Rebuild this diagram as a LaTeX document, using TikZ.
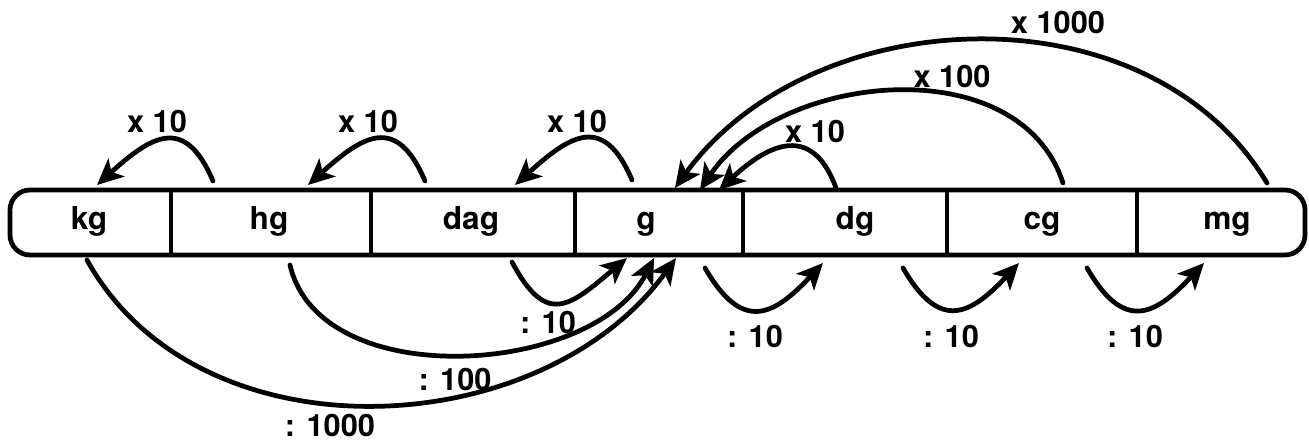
\documentclass[tikz,border=0pt]{standalone}
\usepackage{fontspec}
\setmainfont{TeX Gyre Heros}
\usetikzlibrary{arrows.meta}

\begin{document}
\begin{tikzpicture}[x=0.2mm,y=0.2mm,line width=0.95mm,line cap=round,
  unit/.style={anchor=base,font=\fontsize{18}{20}\selectfont\bfseries},
  lbl/.style={inner sep=1pt,font=\fontsize{17.5}{19}\selectfont\bfseries},
  conv/.style={-{Stealth[length=5.2mm,width=4.8mm,inset=1.3mm]}}]
\useasboundingbox (0,0) rectangle (1309,445);
\draw[rounded corners=4mm] (10,190) rectangle (1305,255);
\foreach \x in {171,371,575,743,947,1137}
  \draw[line cap=butt] (\x,190) -- (\x,255);

\node[unit] (kg) at (89,215) {kg};
\node[unit] (hg) at (269,215) {hg};
\node[unit] (dag) at (471,215) {dag};
\node[unit] (g) at (646,215) {g};
\node[unit] (dg) at (855,215) {dg};
\node[unit] (cg) at (1042,215) {cg};
\node[unit] (mg) at (1227,215) {mg};

% x 10, x 100, x 1000
\draw[conv] ([shift={(-56,49)}]hg.base) to[out=113,in=42,looseness=1.6] ([shift={(8,45)}]kg.base);
\draw[conv] ([shift={(-46,49)}]dag.base) to[out=113,in=42,looseness=1.6] ([shift={(39,45)}]hg.base);
\draw[conv] ([shift={(-14,50)}]g.base) to[out=113,in=42,looseness=1.6] ([shift={(44,45)}]dag.base);
\draw[conv] ([shift={(-19,42)}]dg.base) to[out=110,in=43,looseness=1.5] ([shift={(73,40)}]g.base);
\draw[conv] ([shift={(21,47)}]cg.base) to[out=108,in=56] ([shift={(54,40)}]g.base);
\draw[conv] ([shift={(40,47)}]mg.base) to[out=121,in=54] ([shift={(29,42)}]g.base);

\node[lbl] (m1) at (157,323) {x 10};
\node[lbl] (m2) at (368,323) {x 10};
\node[lbl] (m3) at (577,323) {x 10};
\node[lbl] (m4) at (815,313) {x 10};
\node[lbl] (m5) at (952,368) {x 100};
\node[lbl] (m6) at (1058,422) {x 1000};

% : 10, : 100, : 1000
\draw[conv] ([shift={(41,-32)}]dag.base) to[out=-62,in=-140,looseness=1.65] ([shift={(-19,-28)}]g.base);
\draw[conv] ([shift={(21,-35)}]hg.base) to[out=-77,in=-117,looseness=0.93] ([shift={(8,-28)}]g.base);
\draw[conv] ([shift={(-2,-30)}]kg.base) to[out=-61,in=-126] ([shift={(30,-28)}]g.base);
\draw[conv] ([shift={(59,-38)}]g.base) to[out=-60,in=-133,looseness=1.6] ([shift={(-32,-33)}]dg.base);
\draw[conv] ([shift={(48,-38)}]dg.base) to[out=-60,in=-133,looseness=1.6] ([shift={(-23,-33)}]cg.base);
\draw[conv] ([shift={(45,-38)}]cg.base) to[out=-60,in=-133,looseness=1.6] ([shift={(-23,-33)}]mg.base);

\node[lbl] (d1) at (548,122) {: 10};
\node[lbl] (d2) at (455,65) {: 100};
\node[lbl] (d3) at (330,19) {: 1000};
\node[lbl] (d4) at (755,108) {: 10};
\node[lbl] (d5) at (951,108) {: 10};
\node[lbl] (d6) at (1135,108) {: 10};
\end{tikzpicture}
\end{document}
